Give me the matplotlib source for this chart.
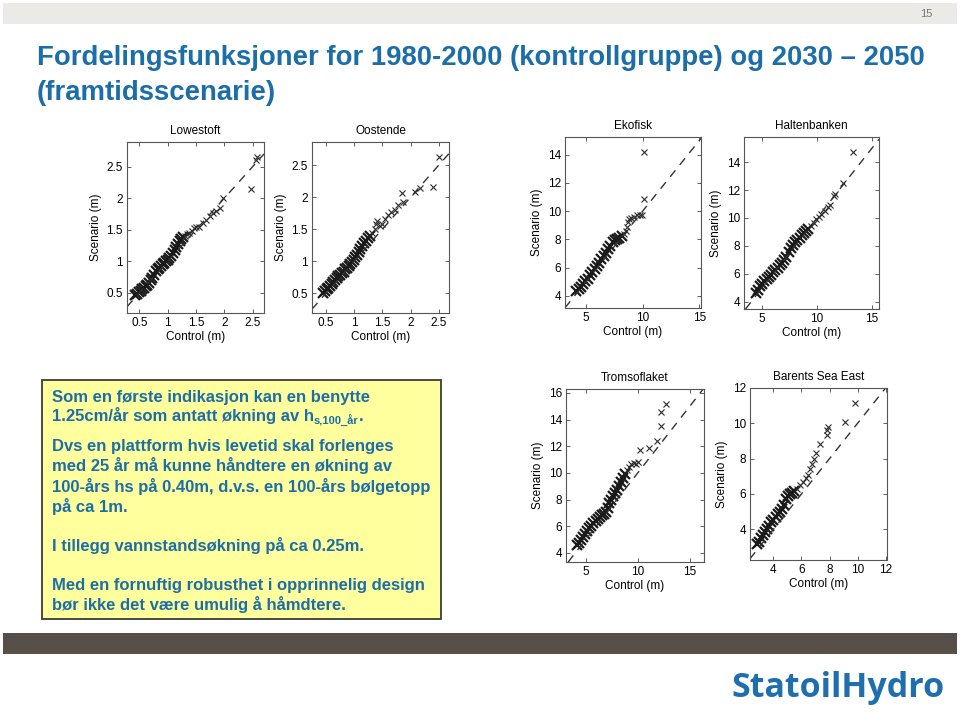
import matplotlib
matplotlib.use('Agg')
import matplotlib.pyplot as plt
from matplotlib.patches import Rectangle

# ---- data (control, scenario) ----
lowestoft_ctrl = [0.43, 0.46, 0.49, 0.52, 0.55, 0.58, 0.61, 0.64, 0.67, 0.70, 0.73, 0.76, 0.79, 0.82,
                  0.85, 0.88, 0.91, 0.94, 0.97, 1.00, 1.03, 1.06, 1.09, 1.12, 1.15, 1.18, 1.21, 1.24,
                  1.27, 1.30, 1.34, 1.38, 1.42, 1.46, 1.50, 1.55, 1.62, 1.68, 1.75, 1.80, 1.86, 1.93,
                  1.98, 2.47, 2.55, 2.57]
lowestoft_scen = [0.46, 0.48, 0.51, 0.53, 0.56, 0.58, 0.61, 0.63, 0.66, 0.70, 0.74, 0.79, 0.84, 0.87,
                  0.89, 0.92, 0.96, 0.98, 1.00, 1.02, 1.05, 1.09, 1.13, 1.18, 1.23, 1.28, 1.32, 1.36,
                  1.38, 1.40, 1.43, 1.45, 1.48, 1.52, 1.55, 1.55, 1.60, 1.66, 1.72, 1.76, 1.80, 1.85,
                  2.00, 2.15, 2.60, 2.65]

oostende_ctrl = [0.45, 0.48, 0.51, 0.54, 0.57, 0.60, 0.63, 0.66, 0.69, 0.72, 0.75, 0.78, 0.81, 0.84,
                 0.87, 0.90, 0.93, 0.96, 0.99, 1.02, 1.05, 1.08, 1.11, 1.14, 1.17, 1.20, 1.24, 1.28,
                 1.32, 1.36, 1.38, 1.40, 1.45, 1.50, 1.55, 1.60, 1.65, 1.72, 1.78, 1.84, 1.86, 2.07,
                 2.16, 2.40, 2.50]
oostende_scen = [0.50, 0.53, 0.56, 0.58, 0.61, 0.64, 0.67, 0.71, 0.74, 0.77, 0.79, 0.81, 0.83, 0.87,
                 0.90, 0.93, 0.96, 0.99, 1.02, 1.06, 1.10, 1.15, 1.19, 1.24, 1.28, 1.32, 1.36, 1.40,
                 1.44, 1.50, 1.58, 1.62, 1.55, 1.58, 1.66, 1.72, 1.76, 1.80, 1.88, 2.06, 1.92, 2.08,
                 2.14, 2.16, 2.62]

ekofisk_ctrl = [4.15, 4.35, 4.55, 4.75, 4.95, 5.15, 5.35, 5.55, 5.75, 5.95, 6.15, 6.35, 6.55, 6.75,
                6.95, 7.15, 7.35, 7.55, 7.75, 7.95, 8.15, 8.35, 8.50, 8.60, 8.70, 8.80, 9.00, 9.20,
                9.50, 9.75, 9.95, 10.1, 10.1]
ekofisk_scen = [4.30, 4.45, 4.65, 4.85, 5.02, 5.22, 5.45, 5.65, 5.90, 6.12, 6.35, 6.58, 6.80, 7.05,
                7.30, 7.55, 7.80, 7.95, 8.05, 8.10, 8.20, 8.35, 8.60, 8.90, 9.25, 9.45, 9.50, 9.60,
                9.70, 9.75, 9.70, 10.85, 14.2]

halten_ctrl = [4.40, 4.60, 4.80, 5.00, 5.20, 5.40, 5.60, 5.80, 6.00, 6.20, 6.40, 6.60, 6.80, 7.00,
               7.20, 7.40, 7.60, 7.80, 8.00, 8.20, 8.40, 8.60, 8.80, 9.00, 9.20, 9.45, 9.70, 9.90,
               10.15, 10.40, 10.70, 11.00, 11.20, 11.50, 11.60, 12.40, 13.30]
halten_scen = [4.60, 4.85, 5.10, 5.30, 5.45, 5.60, 5.75, 5.95, 6.10, 6.25, 6.40, 6.60, 6.80, 7.00,
               7.20, 7.55, 7.85, 8.05, 8.25, 8.45, 8.60, 8.75, 8.90, 9.05, 9.20, 9.40, 9.65, 9.90,
               10.05, 10.30, 10.50, 10.80, 10.90, 11.55, 11.70, 12.50, 14.70]

tromso_ctrl = [4.15, 4.35, 4.55, 4.75, 4.95, 5.15, 5.35, 5.55, 5.75, 5.95, 6.15, 6.35, 6.55, 6.75,
               6.95, 7.10, 7.25, 7.40, 7.60, 7.80, 8.00, 8.20, 8.40, 8.60, 8.80, 9.00, 9.20, 9.40,
               9.60, 9.80, 10.00, 10.20, 11.10, 11.90, 12.20, 12.20, 12.75]
tromso_scen = [4.60, 4.75, 4.95, 5.20, 5.45, 5.65, 5.85, 6.05, 6.25, 6.40, 6.55, 6.70, 6.85, 6.95,
               7.10, 7.40, 7.75, 8.00, 8.25, 8.50, 8.75, 9.05, 9.35, 9.65, 9.95, 10.20, 10.45, 10.65,
               10.75, 10.70, 10.85, 11.70, 11.85, 12.40, 13.55, 14.55, 15.20]

barents_ctrl = [2.80, 2.95, 3.10, 3.25, 3.40, 3.55, 3.70, 3.85, 4.00, 4.15, 4.30, 4.45, 4.60, 4.75,
                4.90, 5.05, 5.20, 5.35, 5.50, 5.70, 5.90, 6.10, 6.30, 6.45, 6.60, 6.75, 6.90, 7.05,
                7.30, 7.85, 7.85, 7.90, 9.10, 9.80]
barents_scen = [3.15, 3.30, 3.50, 3.70, 3.85, 4.00, 4.20, 4.40, 4.55, 4.70, 4.85, 5.00, 5.15, 5.40,
                5.70, 5.90, 6.00, 6.05, 6.15, 6.30, 6.50, 6.70, 6.90, 7.10, 7.40, 7.70, 8.00, 8.30,
                8.85, 9.35, 9.60, 9.80, 10.10, 11.15]

# how many leading points of each panel sit in the dense (overlapping) part
dense_counts = [29, 28, 21, 25, 25, 19]

W, H = 960, 713
blue = '#1b6ea8'

fig = plt.figure(figsize=(W / 100, H / 100), dpi=100)
fig.patch.set_facecolor('white')
renderer = fig.canvas.get_renderer()


def px_rect(x0, y0, x1, y1):
    return [x0 / W, 1 - y1 / H, (x1 - x0) / W, (y1 - y0) / H]


def fx(x):
    return x / W


def fy(y):
    return 1 - y / H


# header / footer bands
fig.patches.append(Rectangle((fx(3), fy(24)), fx(954), 21 / H, transform=fig.transFigure,
                             facecolor='#ECEAE6', edgecolor='none'))
fig.patches.append(Rectangle((fx(3), fy(654)), fx(954), 21 / H, transform=fig.transFigure,
                             facecolor='#57504A', edgecolor='none'))
fig.text(fx(932), fy(14), '15', fontsize=8, color='#777777', ha='right', va='center',
         family=['Liberation Sans Narrow', 'Liberation Sans'])

# title, fitted to the reference width
narrow = ['Liberation Sans Narrow', 'Liberation Sans', 'DejaVu Sans']
t1 = fig.text(fx(37), fy(58), 'Fordelingsfunksjoner for 1980-2000 (kontrollgruppe) og 2030 \u2013 2050',
              fontsize=22, fontweight='bold', color=blue, va='center', ha='left', family=narrow)
w = t1.get_window_extent(renderer).width
fs_title = 22 * 885 / w
t1.set_fontsize(fs_title)
fig.text(fx(37), fy(93), '(framtidsscenarie)', fontsize=fs_title, fontweight='bold',
         color=blue, va='center', ha='left', family=narrow)

# yellow text box
fig.patches.append(Rectangle((fx(42), fy(619)), fx(399), 239 / H, transform=fig.transFigure,
                             facecolor='#FFFF9E', edgecolor='#3a3a3a', linewidth=1.3))
box_lines = [
    ('Som en første indikasjon kan en benytte', 402),
    ('1.25cm/år som antatt økning av h', 421),
    ('Dvs en plattform hvis levetid skal forlenges', 451),
    ('med 25 år må kunne håndtere en økning av', 471),
    ('100-års hs på 0.40m, d.v.s. en 100-års bølgetopp', 492),
    ('på ca 1m.', 512),
    ('I tillegg vannstandsøkning på ca 0.25m.', 551),
    ('Med en fornuftig robusthet i opprinnelig design', 590),
    ('bør ikke det være umulig å håmdtere.', 610),
]
sans = ['Liberation Sans', 'DejaVu Sans']
for txt, yb in box_lines:
    t = fig.text(fx(52), fy(yb), txt, fontsize=12, fontweight='bold', color=blue,
                 va='baseline', ha='left', family=sans)
    if txt.endswith(' h'):
        x_end = t.get_window_extent(renderer).x1
        s = fig.text(x_end / W, fy(yb + 4), 's,100_år', fontsize=8, fontweight='bold',
                     color=blue, va='baseline', ha='left', family=sans)
        x_end2 = s.get_window_extent(renderer).x1
        fig.text(x_end2 / W, fy(yb), '.', fontsize=12, fontweight='bold', color=blue,
                 va='baseline', ha='left', family=sans)

# logo
logo = fig.text(fx(731), fy(697), 'StatoilHydro', fontsize=27, fontweight='bold',
                color='#1f6fae', ha='left', va='baseline', family=['Open Sans', 'Noto Sans', 'DejaVu Sans'])
lw_ = logo.get_window_extent(renderer).width
logo.set_fontsize(27 * 213 / lw_)

# QQ panels
panels = [
    ('Lowestoft', lowestoft_ctrl, lowestoft_scen, (127, 142, 264, 313),
     (0.28, 2.70), (0.18, 2.89), [0.5, 1, 1.5, 2, 2.5], [0.5, 1, 1.5, 2, 2.5]),
    ('Oostende', oostende_ctrl, oostende_scen, (312, 142, 449, 313),
     (0.25, 2.68), (0.19, 2.86), [0.5, 1, 1.5, 2, 2.5], [0.5, 1, 1.5, 2, 2.5]),
    ('Ekofisk', ekofisk_ctrl, ekofisk_scen, (565, 137, 701, 308),
     (3.14, 15.15), (3.13, 15.25), [5, 10, 15], [4, 6, 8, 10, 12, 14]),
    ('Haltenbanken', halten_ctrl, halten_scen, (744, 137, 879, 309),
     (3.34, 15.64), (3.48, 15.8), [5, 10, 15], [4, 6, 8, 10, 12, 14]),
    ('Tromsoflaket', tromso_ctrl, tromso_scen, (566, 389, 704, 562),
     (3.11, 16.37), (3.32, 16.3), [5, 10, 15], [4, 6, 8, 10, 12, 14, 16]),
    ('Barents Sea East', barents_ctrl, barents_scen, (750, 388, 887, 560),
     (2.33, 12.1), (2.26, 12.0), [4, 6, 8, 10, 12], [4, 6, 8, 10, 12]),
]

for (name, xs, ys, box, xl, yl, xt, yt), nd in zip(panels, dense_counts):
    ax = fig.add_axes(px_rect(*box))
    # dense part: heavy overlapping crosses form a solid band
    ax.plot(xs[:nd], ys[:nd], linestyle='none', marker='x', markersize=6.5,
            markeredgewidth=1.6, color='#1a1a1a')
    ax.plot(xs[nd:], ys[nd:], linestyle='none', marker='x', markersize=5,
            markeredgewidth=0.8, color='#2a2a2a')
    ax.axline((0, 0), slope=1, color='#333333', linewidth=1.0, dashes=(6, 5))
    ax.set_xlim(*xl)
    ax.set_ylim(*yl)
    ax.set_xticks(xt)
    ax.set_yticks(yt)
    ax.set_xticklabels(['%g' % v for v in xt])
    ax.set_yticklabels(['%g' % v for v in yt])
    ax.tick_params(direction='in', length=3, width=0.6, top=True, right=True,
                   labelsize=8.5, pad=3, color='#444444')
    for sp in ax.spines.values():
        sp.set_color('#555555')
        sp.set_linewidth(0.8)
    ax.set_title(name, fontsize=8.5, pad=6, family=sans)
    ax.set_xlabel('Control (m)', fontsize=8.5, labelpad=1, family=sans)
    ax.set_ylabel('Scenario (m)', fontsize=8.5, labelpad=3, family=sans)
    for lab in ax.get_xticklabels() + ax.get_yticklabels():
        lab.set_family(sans)

fig.savefig('out.png', dpi=100)
